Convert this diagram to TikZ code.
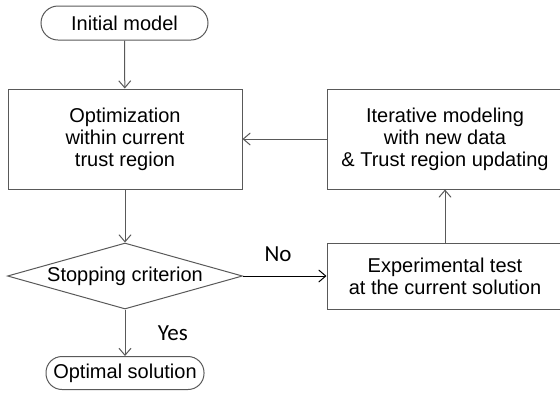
\documentclass[tikz,border=0pt]{standalone}
\usepackage{fontspec}
\setmainfont{Liberation Sans}
\newfontfamily\answerfont{Carlito}
\usetikzlibrary{shapes.geometric,arrows.meta}

\begin{document}
\begin{tikzpicture}[x=1pt, y=-1pt,
    box/.style={draw=black!65, line width=1pt, align=center, font=\fontsize{20}{22}\selectfont},
    flow/.style={-{Straight Barb[length=7pt,width=12pt]}, draw=black!65, line width=1pt},
    answer/.style={font=\answerfont\fontsize{23}{26}\selectfont}]
    \useasboundingbox (0,0) rectangle (560,392);

    % Left column: main loop
    \node[box, rounded corners=17pt, minimum width=167pt, minimum height=34pt] (init) at (124.5,23) {Initial model};
    \node[box, minimum width=234pt, minimum height=100pt] (opt) at (125,139) {Optimization\\within current\\trust region};
    \node[box, diamond, aspect=3.56, inner sep=0pt, minimum width=235pt, minimum height=66pt] (stop) at (125,276) {Stopping criterion};
    \node[box, rounded corners=16pt, minimum width=158pt, minimum height=33pt] (final) at (125,373) {Optimal solution};

    % Right column: update step
    \node[box, minimum width=236pt, minimum height=100pt] (iter) at (445,139) {Iterative modeling\\with new data\\\& Trust region updating};
    \node[box, minimum width=236pt, minimum height=66pt] (exper) at (445,276) {Experimental test\\at the current solution};

    \draw[flow] (init) -- (opt);
    \draw[flow] (opt) -- (stop);
    \draw[flow] (stop) -- (final) node[answer, midway, right=29pt] {Yes};
    \draw[flow, draw=black] (stop) -- (exper) node[answer, pos=0.42, above=11pt] {No};
    \draw[flow] (exper) -- (iter);
    \draw[flow] (iter) -- (opt);
\end{tikzpicture}
\end{document}
